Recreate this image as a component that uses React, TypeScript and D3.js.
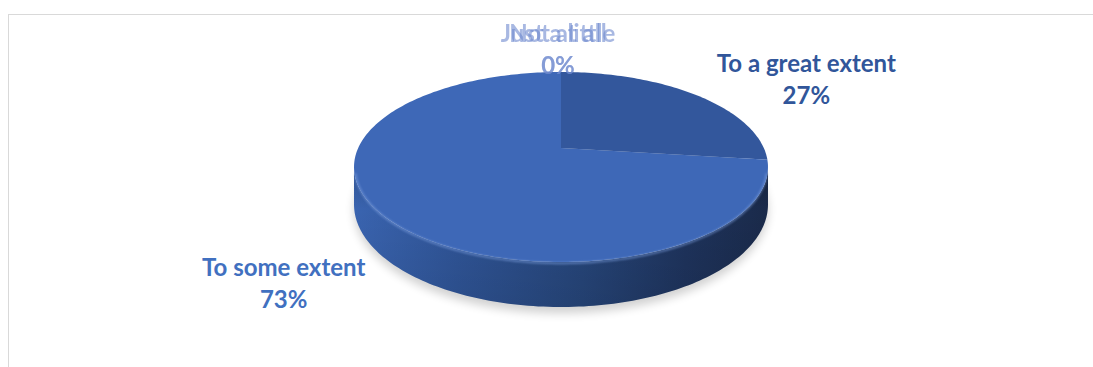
import React from "react";
import * as d3 from "d3";

const categories = ["To a great extent", "To some extent", "Just a little", "Not at all"];
const values = [27, 73, 0, 0];
const percentLabels = ["27%", "73%", "0%", "0%"];

const W = 1093;
const H = 367;

// pie geometry (perspective projection of a flat disc)
const CX = 561;
const CY = 148;
const AX = 202.8;
const BY = 91.2;
const K = 0.2;
const THICK = 36;

function proj(a: number, r = 1, h = 0): [number, number] {
  const X = r * Math.sin(a);
  const Z = -r * Math.cos(a);
  const w = 1 - K * Z;
  return [CX + (AX * X) / w, CY + (BY * Z + h) / w];
}

function arcPts(a0: number, a1: number, h = 0, r = 1): [number, number][] {
  const n = Math.max(2, Math.ceil(Math.abs(a1 - a0) / 0.02));
  return d3.range(n + 1).map((i) => proj(a0 + ((a1 - a0) * i) / n, r, h));
}

const line = d3.line<[number, number]>();

const topColors = ["#33579C", "#3E68B7", "#3E68B7", "#3E68B7"];
const labelColors = ["#31569A", "#4170C0", "#6F8ACF", "#6F8ACF"];
const labelOpacity = [1, 1, 0.6, 0.6];

export default function App() {
  const arcs = d3.pie<number>().sort(null).value((d) => d)(values);

  const sideA0 = Math.PI - Math.acos(K); // right silhouette
  const sideA1 = Math.PI + Math.acos(K); // left silhouette

  const slicePaths = arcs.map((d) => {
    const pts: [number, number][] = [[CX, CY], ...arcPts(d.startAngle, d.endAngle)];
    return line(pts) + "Z";
  });

  const sidePaths = arcs
    .map((d, i) => {
      const s = Math.max(d.startAngle, sideA0);
      const e = Math.min(d.endAngle, sideA1);
      if (e <= s) return null;
      const top = arcPts(s, e, 0);
      const bot = arcPts(e, s, THICK);
      return { i, p: line([...top, ...bot]) + "Z" };
    })
    .filter(Boolean) as { i: number; p: string }[];

  const rimFront = line(arcPts(sideA0 + 0.05, sideA1 - 0.05, 1.5, 0.995));
  const shadowPath = line(arcPts(0, Math.PI * 2, THICK + 5, 1.0)) + "Z";

  // label layout
  const labelPos = arcs.map((d, i) => {
    const mid = (d.startAngle + d.endAngle) / 2;
    const [x, y] = proj(mid);
    if (values[i] === 0) return [x - 3, 42];
    if (Math.sin(mid) >= 0) return [x + 111, y - 23];
    return [x - 102, y + 58];
  });

  return (
    <svg
      width={W}
      height={H}
      style={{ position: "absolute", left: 0, top: 0, background: "#fff" }}
      fontFamily="Lato, 'Open Sans', sans-serif"
    >
      <defs>
        <linearGradient id="sideMain" gradientUnits="userSpaceOnUse" x1={CX - AX - 5} x2={CX + AX + 5} y1="0" y2="0">
          <stop offset="0" stopColor="#3A64B0" />
          <stop offset="0.25" stopColor="#2F5496" />
          <stop offset="0.55" stopColor="#264579" />
          <stop offset="0.8" stopColor="#1E335C" />
          <stop offset="1" stopColor="#1A2A4A" />
        </linearGradient>
        <linearGradient id="sideShade" x1="0" x2="0" y1="0" y2="1">
          <stop offset="0" stopColor="#000" stopOpacity="0.18" />
          <stop offset="0.3" stopColor="#000" stopOpacity="0" />
          <stop offset="1" stopColor="#000" stopOpacity="0.08" />
        </linearGradient>
        <filter id="blur6" x="-20%" y="-50%" width="140%" height="200%">
          <feGaussianBlur stdDeviation="5" />
        </filter>
        <filter id="blur1" x="-10%" y="-10%" width="120%" height="120%">
          <feGaussianBlur stdDeviation="1.2" />
        </filter>
      </defs>

      <rect x={8.5} y={14.5} width={1200} height={500} fill="#fff" stroke="#D9D9D9" strokeWidth={1} />

      {/* shadow */}
      <path d={shadowPath} fill="#000" opacity={0.18} filter="url(#blur6)" />

      {/* sides */}
      {sidePaths.map((s) => (
        <g key={"side" + s.i}>
          <path d={s.p} fill="url(#sideMain)" />
          <path d={s.p} fill="url(#sideShade)" />
        </g>
      ))}

      {/* top faces */}
      {slicePaths.map((p, i) => (
        <path key={"top" + i} d={p} fill={topColors[i]} />
      ))}

      {/* rim highlight */}
      <path d={rimFront ?? ""} fill="none" stroke="#7FA2E2" strokeWidth={2} opacity={0.6} filter="url(#blur1)" />

      {/* labels */}
      {arcs.map((d, i) => (
        <text
          key={"lab" + i}
          x={labelPos[i][0]}
          y={labelPos[i][1]}
          textAnchor="middle"
          fontWeight="bold"
          fontSize={24}
          fill={labelColors[i]}
          opacity={labelOpacity[i]}
        >
          <tspan x={labelPos[i][0]}>{categories[i]}</tspan>
          <tspan x={labelPos[i][0]} dy={32}>
            {percentLabels[i]}
          </tspan>
        </text>
      ))}
    </svg>
  );
}
